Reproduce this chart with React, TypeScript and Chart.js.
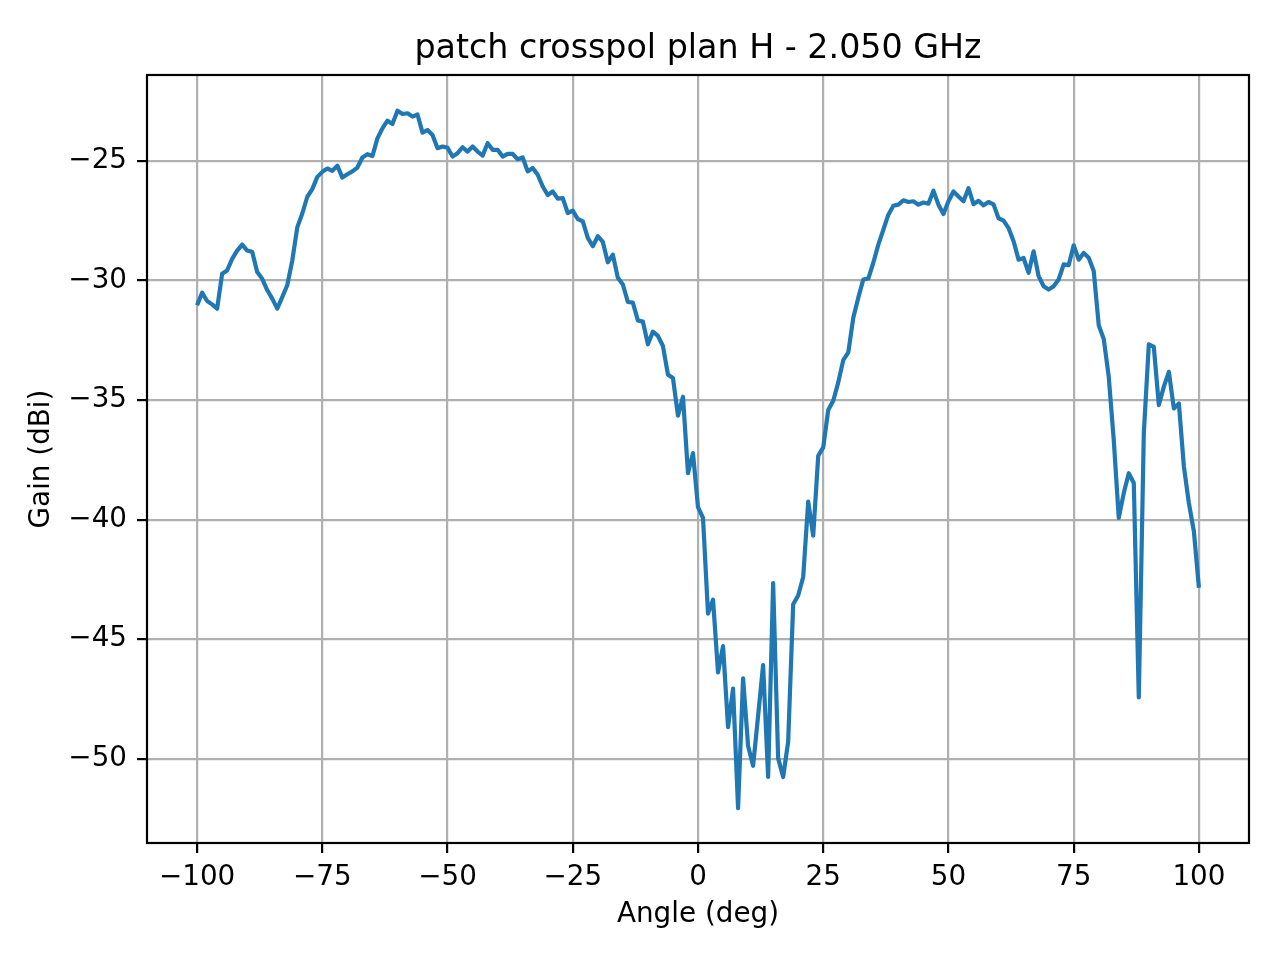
import { useEffect, useRef } from 'react'
import { Chart, registerables } from 'chart.js'
Chart.register(...registerables)

const chartTitle = 'patch crosspol plan H - 2.050 GHz'
const xLabel = 'Angle (deg)'
const yLabel = 'Gain (dBi)'

// angle (deg), one per degree
const angles = [
    -100, -99, -98, -97, -96, -95, -94, -93, -92, -91,
    -90, -89, -88, -87, -86, -85, -84, -83, -82, -81,
    -80, -79, -78, -77, -76, -75, -74, -73, -72, -71,
    -70, -69, -68, -67, -66, -65, -64, -63, -62, -61,
    -60, -59, -58, -57, -56, -55, -54, -53, -52, -51,
    -50, -49, -48, -47, -46, -45, -44, -43, -42, -41,
    -40, -39, -38, -37, -36, -35, -34, -33, -32, -31,
    -30, -29, -28, -27, -26, -25, -24, -23, -22, -21,
    -20, -19, -18, -17, -16, -15, -14, -13, -12, -11,
    -10, -9, -8, -7, -6, -5, -4, -3, -2, -1,
    0, 1, 2, 3, 4, 5, 6, 7, 8, 9,
    10, 11, 12, 13, 14, 15, 16, 17, 18, 19,
    20, 21, 22, 23, 24, 25, 26, 27, 28, 29,
    30, 31, 32, 33, 34, 35, 36, 37, 38, 39,
    40, 41, 42, 43, 44, 45, 46, 47, 48, 49,
    50, 51, 52, 53, 54, 55, 56, 57, 58, 59,
    60, 61, 62, 63, 64, 65, 66, 67, 68, 69,
    70, 71, 72, 73, 74, 75, 76, 77, 78, 79,
    80, 81, 82, 83, 84, 85, 86, 87, 88, 89,
    90, 91, 92, 93, 94, 95, 96, 97, 98, 99,
    100,
]

// gain (dBi)
const gain = [
    -31.04, -30.51, -30.86, -31.00, -31.18, -29.72, -29.58, -29.10, -28.75, -28.50,
    -28.75, -28.80, -29.65, -29.93, -30.40, -30.76, -31.18, -30.70, -30.20, -29.17,
    -27.78, -27.20, -26.50, -26.18, -25.67, -25.46, -25.32, -25.42, -25.20, -25.70,
    -25.56, -25.44, -25.28, -24.86, -24.72, -24.80, -24.06, -23.64, -23.32, -23.46,
    -22.90, -23.04, -23.01, -23.15, -23.06, -23.82, -23.71, -23.92, -24.47, -24.40,
    -24.45, -24.82, -24.68, -24.43, -24.61, -24.40, -24.61, -24.78, -24.26, -24.54,
    -24.54, -24.82, -24.71, -24.71, -24.93, -24.86, -25.44, -25.30, -25.58, -26.07,
    -26.43, -26.28, -26.58, -26.56, -27.18, -27.08, -27.43, -27.53, -28.22, -28.57,
    -28.15, -28.39, -29.24, -28.92, -29.89, -30.17, -30.90, -30.93, -31.67, -31.72,
    -32.67, -32.14, -32.32, -32.74, -33.94, -34.08, -35.65, -34.86, -38.06, -37.22,
    -39.48, -39.93, -43.93, -43.35, -46.39, -45.29, -48.68, -47.06, -52.06, -46.64,
    -49.46, -50.29, -48.20, -46.08, -50.76, -42.65, -49.97, -50.76, -49.28, -43.54,
    -43.17, -42.40, -39.25, -40.67, -37.33, -36.98, -35.42, -35.03, -34.26, -33.33,
    -33.01, -31.56, -30.72, -29.96, -29.92, -29.26, -28.50, -27.88, -27.25, -26.88,
    -26.83, -26.65, -26.72, -26.69, -26.83, -26.74, -26.79, -26.25, -26.83, -27.22,
    -26.69, -26.28, -26.49, -26.69, -26.14, -26.81, -26.67, -26.86, -26.72, -26.82,
    -27.40, -27.50, -27.81, -28.36, -29.13, -29.06, -29.68, -28.78, -29.82, -30.24,
    -30.38, -30.24, -29.96, -29.33, -29.36, -28.53, -29.13, -28.85, -29.05, -29.60,
    -31.87, -32.45, -34.03, -36.67, -39.93, -38.89, -38.06, -38.47, -47.43, -36.39,
    -32.67, -32.78, -35.21, -34.44, -33.82, -35.35, -35.14, -37.78, -39.31, -40.49,
    -42.85,
]

const xTicks = [-100, -75, -50, -25, 0, 25, 50, 75, 100]
const yTicks = [-50, -45, -40, -35, -30, -25]

const FONT = '"DejaVu Sans", sans-serif'
const fmt = (v: number | string) => String(v).replace('-', '\u2212')

// matplotlib-style box around the axes + title centred on the plot area
const frame = {
    id: 'frame',
    afterDraw(chart: Chart) {
        const { ctx, chartArea: a } = chart
        ctx.save()
        ctx.strokeStyle = '#000'
        ctx.lineWidth = 2.2
        ctx.strokeRect(a.left, a.top, a.right - a.left, a.bottom - a.top)
        ctx.fillStyle = '#000'
        ctx.font = `33.3px ${FONT}`
        ctx.textAlign = 'center'
        ctx.textBaseline = 'alphabetic'
        ctx.fillText(chartTitle, (a.left + a.right) / 2, a.top - 16.7)
        ctx.restore()
    },
}

export default function App() {
    const canvasRef = useRef<HTMLCanvasElement>(null)
    const chartRef = useRef<Chart | null>(null)

    useEffect(() => {
        if (!canvasRef.current) return
        const ctx = canvasRef.current.getContext('2d')!
        chartRef.current?.destroy()
        const tickFont = { family: FONT, size: 27.8 }
        const grid = { color: '#b0b0b0', lineWidth: 2.2, tickLength: 10, tickColor: '#000', tickWidth: 2.2 }
        chartRef.current = new Chart(ctx, {
            type: 'line',
            data: {
                datasets: [
                    {
                        data: angles.map((a, i) => ({ x: a, y: gain[i] })),
                        borderColor: '#1f77b4',
                        borderWidth: 4.2,
                        pointRadius: 0,
                        tension: 0,
                        borderJoinStyle: 'round',
                        fill: false,
                    },
                ],
            },
            options: {
                animation: false,
                responsive: true, maintainAspectRatio: false,
                layout: { padding: { top: 75, right: 31, bottom: 0, left: 0 } },
                plugins: {
                    legend: { display: false },
                    tooltip: { enabled: false },
                },
                scales: {
                    x: {
                        type: 'linear', min: -110, max: 110,
                        afterBuildTicks: (s: any) => { s.ticks = xTicks.map(value => ({ value })) },
                        afterFit: (s: any) => { s.height = 117 },
                        ticks: { color: '#000', font: tickFont, padding: 8, maxRotation: 0, autoSkip: false, callback: v => fmt(v) },
                        grid,
                        border: { display: false },
                        title: { display: true, text: xLabel, color: '#000', font: tickFont, padding: { top: 0, bottom: 29 } },
                    },
                    y: {
                        type: 'linear', min: -53.52, max: -21.41,
                        afterBuildTicks: (s: any) => { s.ticks = yTicks.map(value => ({ value })) },
                        afterFit: (s: any) => { s.width = 147 },
                        ticks: { color: '#000', font: tickFont, padding: 10, autoSkip: false, callback: v => fmt(v) },
                        grid,
                        border: { display: false },
                        title: { display: true, text: yLabel, color: '#000', font: tickFont, padding: { top: 25, bottom: 0 } },
                    },
                },
            },
            plugins: [frame],
        })
        return () => chartRef.current?.destroy()
    }, [])

    return (
        <div style={{ position: 'absolute', left: 0, top: 0, width: 1280, height: 960, background: '#fff' }}>
            <canvas ref={canvasRef} />
        </div>
    )
}
